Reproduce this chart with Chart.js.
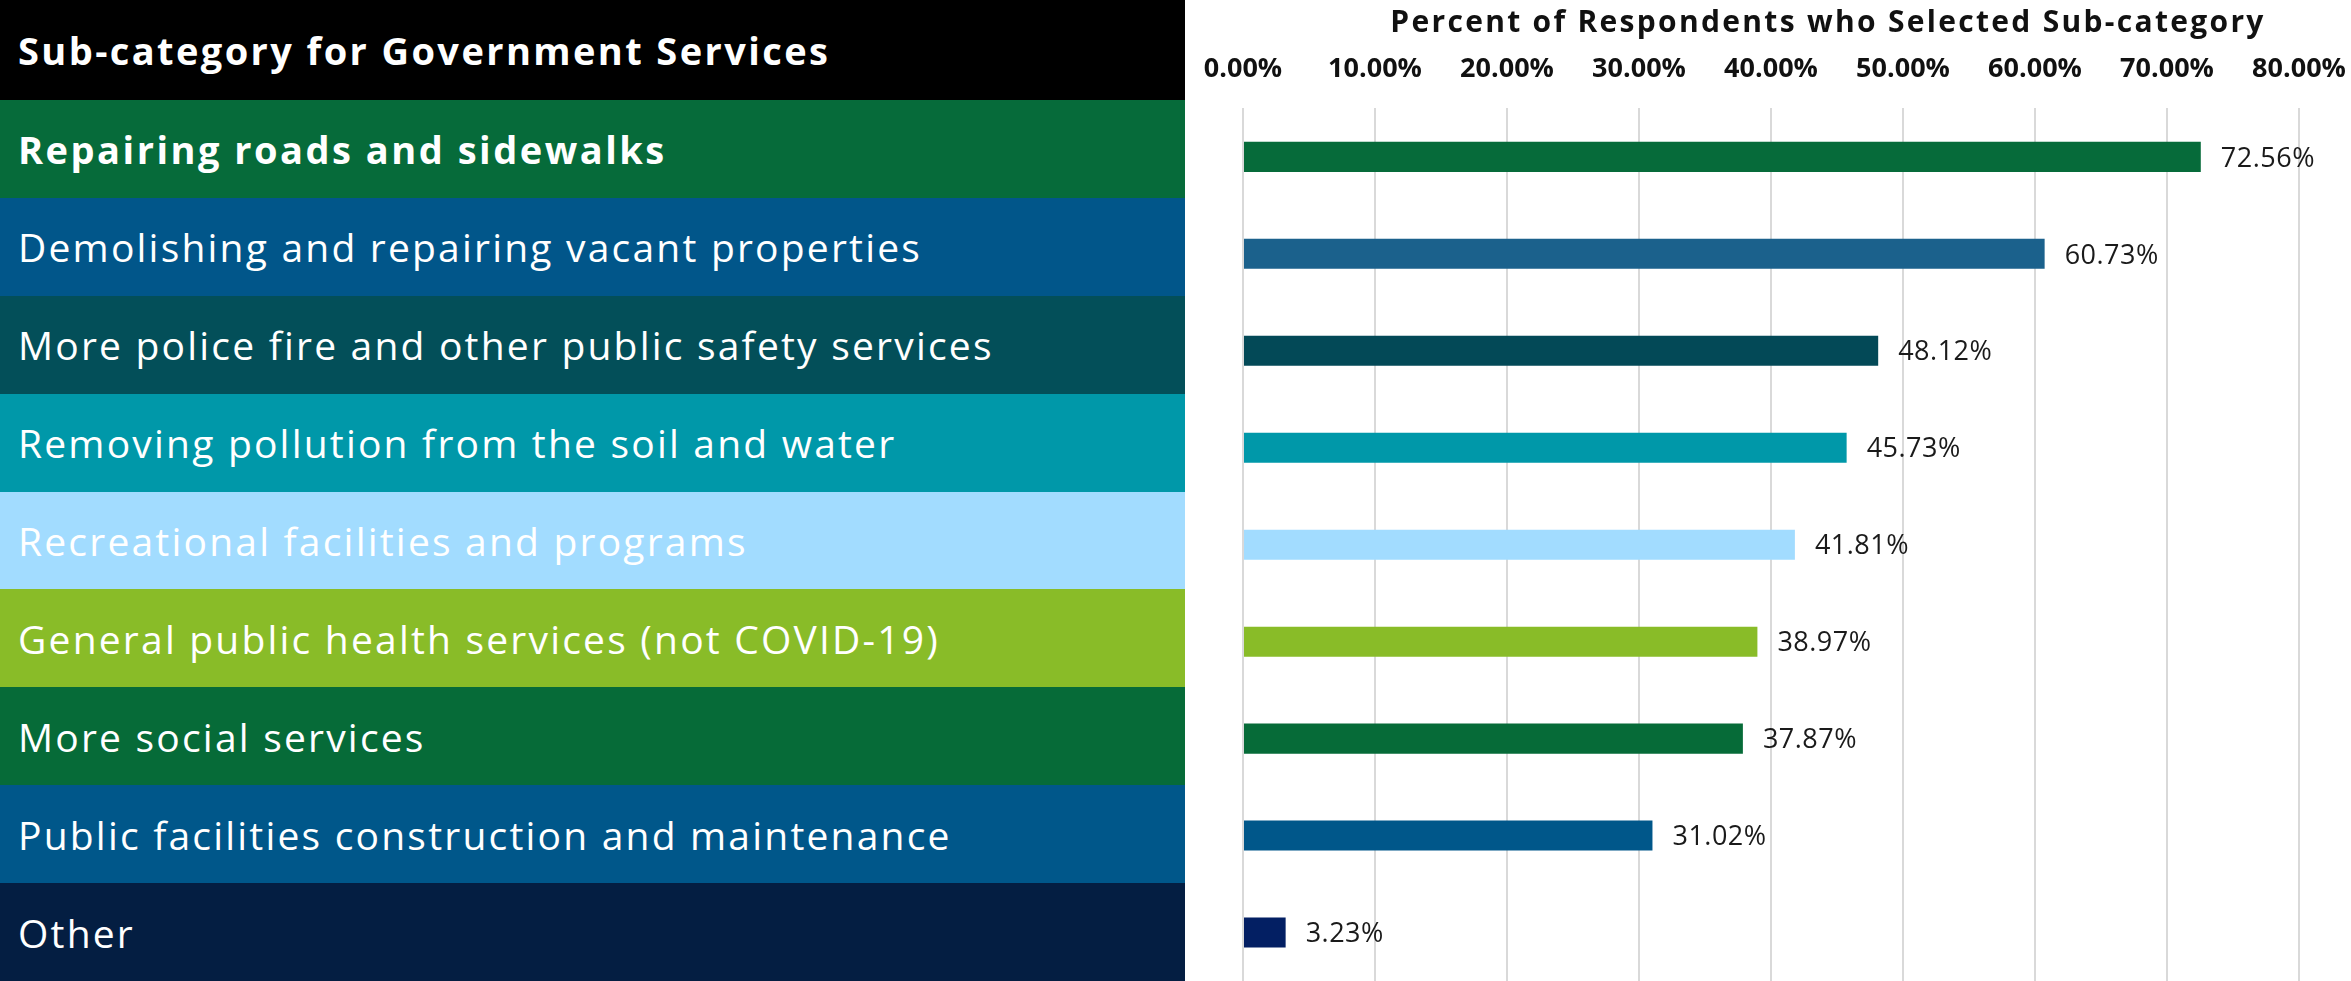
<!DOCTYPE html>
<html>
<head>
<meta charset="utf-8">
<script src="https://cdn.jsdelivr.net/npm/chart.js@4.4.1/dist/chart.umd.min.js"></script>
<style>
    html, body { margin: 0; padding: 0; background: #fff; }
    body { width: 2351px; height: 981px; position: relative; overflow: hidden; font-family: "Open Sans", sans-serif; }
    #table { position: absolute; left: 0; top: 0; width: 1185px; height: 981px; display: flex; flex-direction: column; }
    #table .cell { color: #fff; display: flex; align-items: center; padding-left: 18px; box-sizing: border-box; flex: 1; font-size: 39px; letter-spacing: 2.2px; white-space: nowrap; }
    #table .head { flex: 0 0 100px; background: #000; font-weight: 700; font-size: 38px; letter-spacing: 2.4px; }
    #table .bold { font-weight: 700; font-size: 38px; letter-spacing: 2.5px; }
    #chart-wrap { position: absolute; left: 1185px; top: 0; width: 1166px; height: 981px; }
</style>
</head>
<body>
<div id="table"></div>
<div id="chart-wrap"><canvas id="barChart"></canvas></div>
<script>
const headerLabel = 'Sub-category for Government Services';
const axisTitle = 'Percent of Respondents who Selected Sub-category';
const categories = [
    'Repairing roads and sidewalks',
    'Demolishing and repairing vacant properties',
    'More police fire and other public safety services',
    'Removing pollution from the soil and water',
    'Recreational facilities and programs',
    'General public health services (not COVID-19)',
    'More social services',
    'Public facilities construction and maintenance',
    'Other'
];
const percents = [72.56, 60.73, 48.12, 45.73, 41.81, 38.97, 37.87, 31.02, 3.23];
const rowColors = ['#066B3A', '#01568A', '#034F59', '#0098A9', '#A2DCFF', '#89BC28', '#066B38', '#00578A', '#041E42'];
const barColors = ['#066B3A', '#1B618C', '#034957', '#0098A9', '#A2DCFF', '#89BC28', '#066B38', '#00578A', '#031F63'];
const tickValues = [0, 10, 20, 30, 40, 50, 60, 70, 80];

// left side table
const table = document.getElementById('table');
table.insertAdjacentHTML('beforeend', `<div class="cell head">${headerLabel}</div>`);
categories.forEach((c, i) => {
    table.insertAdjacentHTML('beforeend',
        `<div class="cell${i === 0 ? ' bold' : ''}" style="background:${rowColors[i]}">${c}</div>`);
});

const valueLabels = {
    id: 'valueLabels',
    afterDatasetsDraw(chart) {
        const ctx = chart.ctx;
        const meta = chart.getDatasetMeta(0);
        ctx.save();
        ctx.font = '400 27px "Open Sans"';
        ctx.letterSpacing = '0.5px';
        ctx.fillStyle = '#1a1a1a';
        ctx.textAlign = 'left';
        ctx.textBaseline = 'middle';
        meta.data.forEach((bar, i) => {
            ctx.fillText(percents[i].toFixed(2) + '%', bar.x + 20, bar.y + 2);
        });
        ctx.restore();
    }
};

const topTitle = {
    id: 'topTitle',
    afterDraw(chart) {
        const ctx = chart.ctx;
        const area = chart.chartArea;
        ctx.save();
        ctx.font = '700 30px "Open Sans"';
        ctx.letterSpacing = '2.3px';
        ctx.fillStyle = '#111';
        ctx.textAlign = 'center';
        ctx.textBaseline = 'middle';
        ctx.fillText(axisTitle, (area.left + area.right) / 2 + 57, 23);
        ctx.restore();
    }
};

new Chart(document.getElementById('barChart'), {
    type: 'bar',
    data: {
        labels: categories,
        datasets: [{
            data: percents,
            backgroundColor: barColors,
            barPercentage: 0.62,
            categoryPercentage: 0.5
        }]
    },
    options: {
        indexAxis: 'y',
        responsive: true,
        maintainAspectRatio: false,
        animation: false,
        layout: { padding: { top: 30, left: 0, right: 0, bottom: 0 } },
        plugins: { legend: { display: false }, tooltip: { enabled: false }, title: { display: false } },
        scales: {
            x: {
                position: 'top',
                min: 0,
                max: 80,
                afterBuildTicks: axis => { axis.ticks = tickValues.map(v => ({ value: v })); },
                afterFit: axis => { axis.paddingLeft = 58; axis.paddingRight = 52; },
                grid: { color: '#D9D9D9', lineWidth: 2, drawTicks: false },
                border: { display: false },
                ticks: {
                    padding: 23,
                    color: '#111',
                    font: { family: 'Open Sans', size: 27, weight: '700' },
                    callback: v => v.toFixed(2) + '%'
                }
            },
            y: { display: false }
        }
    },
    plugins: [valueLabels, topTitle]
});
</script>
</body>
</html>
